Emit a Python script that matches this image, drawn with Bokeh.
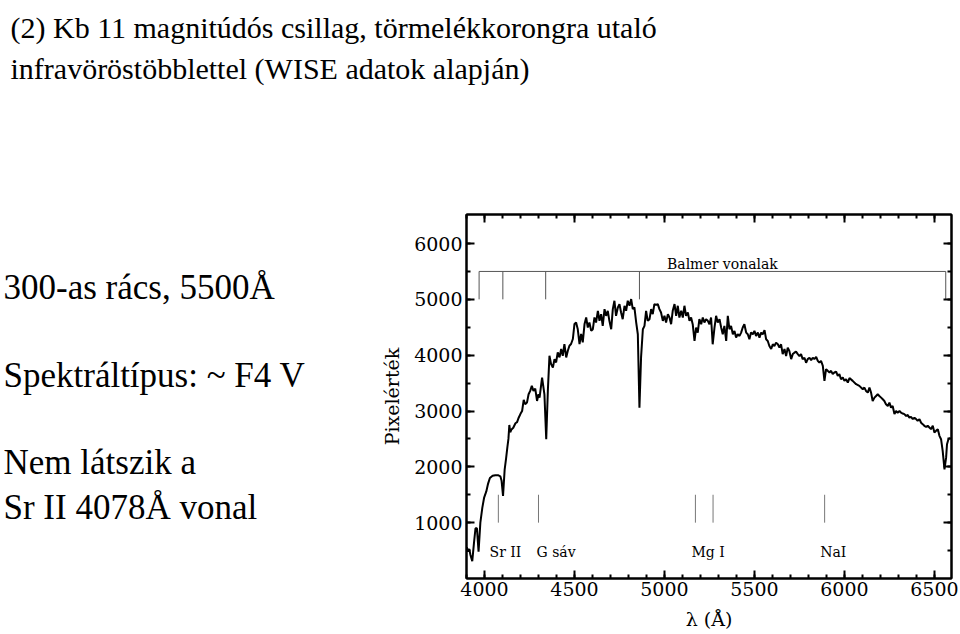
from bokeh.plotting import figure
from bokeh.models import Range1d, LinearAxis, FixedTicker
from bokeh.layouts import column, row
from bokeh.embed import file_html
from bokeh.resources import INLINE
from bokeh.core.properties import value

# ---------------- data ----------------
wl1 = [3902, 3908, 3915, 3922, 3932, 3942, 3950, 3958, 3967, 3977, 3988, 3998, 4010, 4020, 4030, 4045, 4060, 4075, 4088, 4095,
       4103, 4112, 4120, 4127, 4133, 4138, 4143, 4150, 4160, 4172, 4181, 4190, 4200, 4209, 4218, 4226, 4236, 4245, 4254, 4263,
       4272, 4282, 4292, 4300]
fl1 = [560, 480, 530, 420, 310, 650, 900, 900, 480, 1000, 1270, 1450, 1560, 1700, 1800, 1840, 1850, 1850, 1830, 1750,
       1480, 1950, 2150, 2350, 2500, 2750, 2620, 2670, 2700, 2780, 2800, 2880, 2950, 3000, 3200, 3120, 3150, 3300, 3360, 3450,
       3360, 3400, 3180, 3300]
wl2 = [4306, 4320, 4333, 4343, 4352, 4361, 4370, 4380, 4389, 4398, 4407, 4417, 4426, 4435, 4444, 4454, 4463, 4472, 4481, 4491,
       4500, 4509, 4518, 4528, 4537, 4546, 4556, 4565, 4574, 4583, 4593, 4602, 4611, 4620, 4630, 4639, 4648, 4657, 4667, 4676,
       4685, 4694, 4704, 4713, 4722, 4731, 4741, 4750, 4759, 4768, 4778, 4787, 4796, 4806, 4815, 4824, 4833, 4843, 4852, 4861]
fl2 = [3240, 3600, 3300, 2495, 3360, 3990, 3840, 3780, 3930, 3870, 4050, 3960, 4110, 3990, 4200, 3960, 4080, 4170, 4200, 4290,
       4560, 4585, 4470, 4200, 4380, 4230, 4560, 4675, 4495, 4585, 4435, 4465, 4675, 4585, 4795, 4615, 4735, 4525, 4825, 4705,
       4795, 4615, 4465, 4825, 4975, 4705, 4855, 4915, 4765, 4645, 4885, 4795, 4975, 4885, 5005, 4825, 4855, 4585, 4375, 3060]
wl3 = [4870, 4880, 4889, 4898, 4907, 4917, 4926, 4935, 4944, 4954, 4963, 4972, 4981, 4991, 5000, 5009, 5019, 5028, 5037, 5046,
       5056, 5065, 5074, 5083, 5093, 5102, 5111, 5120, 5130, 5139, 5148, 5157, 5167, 5176, 5185, 5194, 5204, 5213, 5222, 5231,
       5241, 5250, 5259, 5268, 5278, 5287, 5296, 5306, 5315, 5324, 5333, 5343, 5352, 5361, 5370, 5380, 5389, 5398, 5407, 5417,
       5426, 5435, 5444, 5454, 5463]
fl3 = [3960, 4465, 4525, 4795, 4615, 4645, 4825, 4735, 4915, 4900, 4915, 4825, 4765, 4615, 4705, 4585, 4735, 4675, 4555, 4795,
       4915, 4705, 4885, 4675, 4795, 4675, 4885, 4705, 4765, 4615, 4675, 4555, 4255, 4495, 4405, 4645, 4555, 4675, 4585, 4645,
       4615, 4555, 4675, 4195, 4495, 4705, 4585, 4645, 4495, 4375, 4525, 4255, 4705, 4465, 4525, 4375, 4435, 4315, 4375, 4345,
       4405, 4495, 4555, 4405, 4375]
wl4 = [5472, 5481, 5491, 5500, 5509, 5519, 5528, 5537, 5546, 5556, 5565, 5574, 5583, 5593, 5602, 5611, 5620, 5630, 5639, 5648,
       5657, 5667, 5676, 5685, 5694, 5704, 5713, 5722, 5731, 5741, 5750, 5759, 5768, 5778, 5787, 5796, 5806, 5815, 5824, 5833,
       5843, 5852, 5861, 5870, 5880, 5889, 5898, 5907, 5917, 5926, 5935, 5944, 5954, 5963, 5972, 5981, 5991, 6000, 6009, 6019]
fl4 = [4285, 4405, 4375, 4435, 4345, 4405, 4315, 4405, 4375, 4450, 4285, 4255, 4165, 4110, 4195, 4165, 4225, 4195, 4135, 4195,
       4020, 4110, 3985, 4135, 4075, 3930, 4020, 4045, 4065, 4020, 3985, 4020, 3930, 3955, 3865, 3930, 3955, 3910, 3955, 3930,
       3970, 3900, 3865, 3900, 3810, 3540, 3750, 3720, 3690, 3720, 3660, 3690, 3705, 3630, 3660, 3570, 3600, 3540, 3570, 3510]
wl5 = [6028, 6046, 6065, 6083, 6102, 6111, 6120, 6130, 6139, 6148, 6157, 6167, 6176, 6185, 6194, 6204, 6213, 6222, 6231, 6241,
       6250, 6259, 6268, 6278, 6287, 6296, 6306, 6315, 6324, 6333, 6343, 6352, 6361, 6370, 6380, 6389, 6398, 6407, 6417, 6426,
       6435, 6444, 6454, 6463, 6472, 6481, 6491, 6500, 6509, 6519, 6528, 6537, 6546, 6556, 6565, 6570, 6578, 6589]
fl5 = [3590, 3540, 3480, 3450, 3390, 3420, 3360, 3330, 3420, 3330, 3180, 3240, 3270, 3300, 3270, 3240, 3210, 3180, 3120, 3090,
       3150, 3060, 3090, 2945, 3000, 2970, 3000, 2970, 2955, 2945, 2910, 2930, 2880, 2895, 2855, 2880, 2855, 2825, 2855, 2790,
       2765, 2735, 2715, 2735, 2705, 2675, 2735, 2615, 2645, 2675, 2555, 2495, 2285, 1955, 2165, 2405, 2495, 2515]

wavelength = wl1 + wl2 + wl3 + wl4 + wl5
flux = fl1 + fl2 + fl3 + fl4 + fl5

balmer_lines = [3970, 4102, 4340, 4861, 6563]
balmer_label = "Balmer vonalak"
other_lines = [4077, 4300, 5172, 5270, 5890]
other_labels = ["Sr II", "G sáv", "Mg I", "NaI"]
other_label_x = [4028, 4289, 5150, 5865]

x_major = [4000, 4500, 5000, 5500, 6000, 6500]
x_minor = list(range(3900, 6600, 100))
y_major = [1000, 2000, 3000, 4000, 5000, 6000]
y_minor = list(range(500, 6500, 500))

title_lines = ["(2) Kb 11 magnitúdós csillag, törmelékkorongra utaló",
               "infravöröstöbblettel (WISE adatok alapján)"]
side_lines = ["300-as rács, 5500Å", "Spektráltípus: ~ F4 V", "Nem látszik a", "Sr II 4078Å vonal"]

SERIF = "DejaVu Serif"
TIMES = "Liberation Serif"

W, H = 960, 634
TOP_H = 100
LEFT_W = 370
FRAME_L, FRAME_R, FRAME_T, FRAME_B = 466, 951, 214, 578


def text_panel(width, height, x0, y0, y_top, y_bot):
    """A blank figure whose data coordinates equal page pixels inside its frame."""
    f = figure(width=width, height=height, output_backend="svg", toolbar_location=None,
               x_range=Range1d(x0, x0 + width), y_range=Range1d(y_bot, y_top),
               x_axis_type=None, y_axis_type=None, min_border=0,
               min_border_top=y_top - y0, min_border_bottom=y0 + height - y_bot)
    f.grid.visible = False
    f.outline_line_color = None
    f.background_fill_color = "white"
    f.border_fill_color = "white"
    return f


# title panel
tp = text_panel(W, TOP_H, 0, 0, 0, TOP_H)
tp.text(x=[10, 10], y=[27, 68], text=title_lines, text_font=value(TIMES), text_font_size="30px",
        text_align="left", text_baseline="alphabetic", text_color="black")

# left text panel (its frame is aligned with the spectrum frame)
lp = text_panel(LEFT_W, H - TOP_H, 0, TOP_H, FRAME_T, FRAME_B)
lp.text(x=[3, 3, 3, 3], y=[287, 375, 462, 507], text=side_lines, text_font=value(TIMES), text_font_size="35px",
        text_align="left", text_baseline="alphabetic", text_color="black")

# ---------------- main spectrum figure ----------------
MW = W - LEFT_W
MH = H - TOP_H
p = figure(width=MW, height=MH, output_backend="svg", toolbar_location=None,
           x_range=Range1d(3900, 6595), y_range=Range1d(0, 6520),
           min_border_left=FRAME_L - LEFT_W, min_border_right=W - FRAME_R,
           min_border_top=FRAME_T - TOP_H, min_border_bottom=H - FRAME_B)
p.grid.visible = False
p.outline_line_color = "black"
p.outline_line_width = 2
p.background_fill_color = "white"
p.border_fill_color = "white"


def style_axis(ax, ticks, minor, show_labels=True):
    ax.ticker = FixedTicker(ticks=ticks, minor_ticks=minor)
    ax.axis_line_color = "black"
    ax.axis_line_width = 2
    ax.major_tick_in = 8
    ax.major_tick_out = 0
    ax.minor_tick_in = 4
    ax.minor_tick_out = 0
    ax.major_tick_line_width = 2
    ax.minor_tick_line_width = 2
    ax.major_tick_line_color = "black"
    ax.minor_tick_line_color = "black"
    ax.major_label_text_font = SERIF
    if show_labels:
        ax.major_label_text_font_size = "19px"
        ax.major_label_text_color = "black"
    else:
        ax.major_label_text_font_size = "0px"
        ax.major_label_text_color = None
        ax.major_label_standoff = 0


xa = p.xaxis[0]
style_axis(xa, x_major, x_minor)
xa.major_label_standoff = 3
xa.axis_label = "λ (Å)"
xa.axis_label_text_font = SERIF
xa.axis_label_text_font_size = "19px"
xa.axis_label_text_font_style = "normal"
xa.axis_label_text_color = "black"
xa.axis_label_standoff = 9

ya = p.yaxis[0]
style_axis(ya, y_major, y_minor)
ya.major_label_standoff = 4
ya.axis_label = "Pixelérték"
ya.axis_label_text_font = SERIF
ya.axis_label_text_font_size = "19px"
ya.axis_label_text_font_style = "normal"
ya.axis_label_text_color = "black"
ya.axis_label_standoff = 8

top = LinearAxis()
style_axis(top, x_major, x_minor, show_labels=False)
p.add_layout(top, "above")
right = LinearAxis()
style_axis(right, y_major, y_minor, show_labels=False)
p.add_layout(right, "right")

# spectrum
p.line(wavelength, flux, line_color="black", line_width=2)

# Balmer bracket
p.segment(x0=balmer_lines, y0=[5000] * len(balmer_lines), x1=balmer_lines, y1=[5500] * len(balmer_lines),
          line_color="#555555", line_width=1)
p.segment(x0=[min(balmer_lines)], y0=[5500], x1=[max(balmer_lines)], y1=[5500], line_color="#555555", line_width=1)
p.text(x=[5322], y=[5642], text=[balmer_label], text_font=value(SERIF), text_font_size="14px",
       text_align="center", text_baseline="alphabetic", text_color="black")

# other lines
p.segment(x0=other_lines, y0=[1000] * len(other_lines), x1=other_lines, y1=[1500] * len(other_lines),
          line_color="#777777", line_width=1)
p.text(x=other_label_x, y=[475] * len(other_labels), text=other_labels, text_font=value(SERIF),
       text_font_size="14px", text_align="left", text_baseline="alphabetic", text_color="black")

layout = column(tp, row(lp, p))
open("out.html", "w").write(file_html(layout, INLINE))
